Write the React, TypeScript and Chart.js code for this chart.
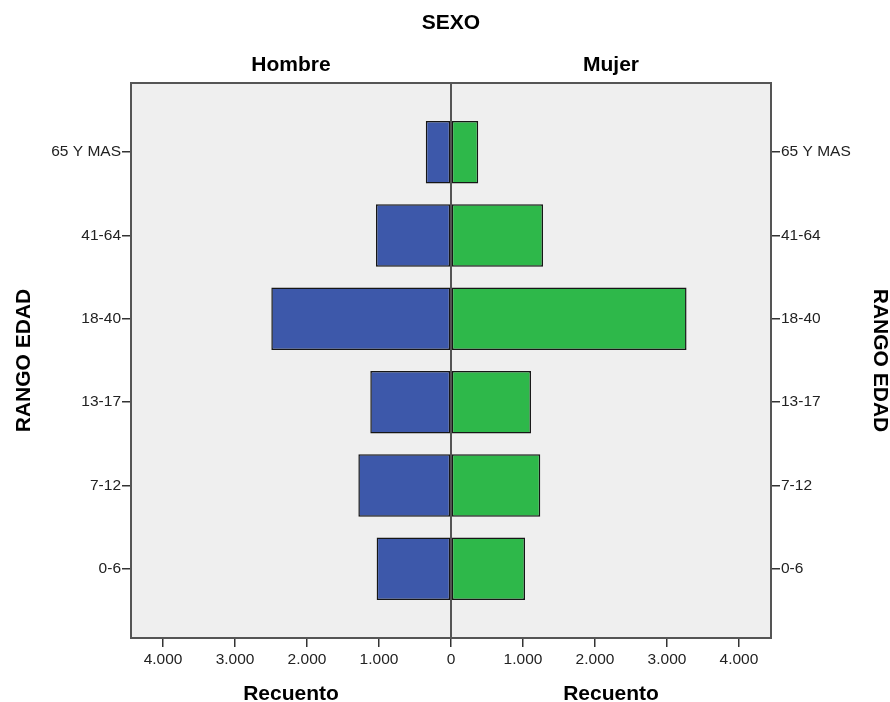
import React, { useEffect, useRef } from "react";
import { Chart, registerables } from "chart.js";

Chart.register(...registerables);

const CATEGORIES = ["0-6", "7-12", "13-17", "18-40", "41-64", "65 Y MAS"];
const HOMBRE = [1033, 1287, 1121, 2496, 1042, 350];
const MUJER = [1028, 1240, 1111, 3272, 1278, 378];
const X_TICKS = [-4000, -3000, -2000, -1000, 0, 1000, 2000, 3000, 4000];
const X_LIMIT = 4445;
const Y_MIN = -0.83;
const Y_MAX = 5.83;

const FONT = '"Liberation Sans", Arial, sans-serif';

function fmt(v: number): string {
  const a = Math.abs(Math.round(v));
  return a.toString().replace(/\B(?=(\d{3})+(?!\d))/g, ".");
}

const framePlugin = {
  id: "frame",
  beforeDraw(chart: any) {
    const { ctx, chartArea: a } = chart;
    ctx.save();
    ctx.fillStyle = "#ffffff";
    ctx.fillRect(0, 0, chart.width, chart.height);
    ctx.fillStyle = "#efefef";
    ctx.fillRect(a.left, a.top, a.right - a.left, a.bottom - a.top);
    ctx.restore();
  },
  afterDatasetsDraw(chart: any) {
    const { ctx, chartArea: a } = chart;
    const x0 = chart.scales.x.getPixelForValue(0);
    ctx.save();
    ctx.strokeStyle = "#222";
    ctx.lineWidth = 1.5;
    ctx.beginPath();
    ctx.moveTo(x0, a.top);
    ctx.lineTo(x0, a.bottom);
    ctx.stroke();
    ctx.strokeStyle = "#555";
    ctx.lineWidth = 2;
    ctx.strokeRect(a.left, a.top, a.right - a.left, a.bottom - a.top);
    ctx.restore();
  },
  afterDraw(chart: any) {
    const { ctx, chartArea: a } = chart;
    const x0 = chart.scales.x.getPixelForValue(0);
    const lm = (a.left + x0) / 2;
    const rm = (x0 + a.right) / 2;
    ctx.save();
    ctx.fillStyle = "#000";
    ctx.font = `bold 21px ${FONT}`;
    ctx.textAlign = "center";
    ctx.textBaseline = "alphabetic";
    ctx.fillText("SEXO", x0, 29);
    ctx.fillText("Hombre", lm, 71);
    ctx.fillText("Mujer", rm, 71);
    ctx.fillText("Recuento", lm, 700);
    ctx.fillText("Recuento", rm, 700);
    const cy = (a.top + a.bottom) / 2;
    ctx.textBaseline = "middle";
    ctx.save();
    ctx.translate(24, cy);
    ctx.rotate(-Math.PI / 2);
    ctx.fillText("RANGO EDAD", 0, 0);
    ctx.restore();
    ctx.save();
    ctx.translate(880, cy);
    ctx.rotate(Math.PI / 2);
    ctx.fillText("RANGO EDAD", 0, 0);
    ctx.restore();
    ctx.restore();
  },
};

export default function App() {
  const ref = useRef<HTMLCanvasElement | null>(null);

  useEffect(() => {
    document.body.style.margin = "0";
    const canvas = ref.current;
    if (!canvas) return;
    const yTicks = (scale: any) => {
      scale.ticks = CATEGORIES.map((_, i) => ({ value: i }));
    };
    const yLabel = (v: any) => {
      const i = Math.round(Number(v));
      return CATEGORIES[i] ?? "";
    };
    const yAxis = (position: string, width: number) => ({
      type: "linear",
      position,
      min: Y_MIN,
      max: Y_MAX,
      offset: false,
      afterBuildTicks: yTicks,
      afterFit: (scale: any) => {
        scale.width = width;
      },
      border: { display: false },
      grid: { offset: false, drawOnChartArea: false, drawTicks: true, tickLength: 9, color: "#333", lineWidth: 1.5 },
      ticks: {
        padding: 1,
        color: "#222",
        font: { family: FONT, size: 15.5 },
        callback: yLabel,
        autoSkip: false,
      },
    });
    const chart = new Chart(canvas, {
      type: "bar",
      data: {
        datasets: [
          {
            label: "Hombre",
            data: HOMBRE.map((v, i) => ({ x: -v, y: i })),
            backgroundColor: "#3d58aa",
            borderColor: "#161616",
            borderWidth: 1.5,
            borderSkipped: false,
            grouped: false,
            barPercentage: 0.75,
            categoryPercentage: 1,
          } as any,
          {
            label: "Mujer",
            data: MUJER.map((v, i) => ({ x: v, y: i })),
            backgroundColor: "#2eb84a",
            borderColor: "#161616",
            borderWidth: 1.5,
            borderSkipped: false,
            grouped: false,
            barPercentage: 0.75,
            categoryPercentage: 1,
          } as any,
        ],
      },
      options: {
        indexAxis: "y",
        animation: false,
        responsive: false,
        maintainAspectRatio: false,
        events: [],
        layout: { padding: { top: 83, left: 0, right: 0, bottom: 0 } },
        plugins: { legend: { display: false }, tooltip: { enabled: false } },
        scales: {
          x: {
            type: "linear",
            position: "bottom",
            min: -X_LIMIT,
            max: X_LIMIT,
            afterBuildTicks: (scale: any) => {
              scale.ticks = X_TICKS.map((v) => ({ value: v }));
            },
            afterFit: (scale: any) => {
              scale.height = 64;
            },
            border: { display: false },
            grid: { drawOnChartArea: false, drawTicks: true, tickLength: 9, color: "#333", lineWidth: 1.5 },
            ticks: {
              padding: 3,
              color: "#222",
              font: { family: FONT, size: 15.5 },
              callback: (v: any) => fmt(Number(v)),
              maxRotation: 0,
              autoSkip: false,
            },
          },
          y: yAxis("left", 131),
          y2: yAxis("right", 119),
        },
      } as any,
      plugins: [framePlugin],
    });
    return () => chart.destroy();
  }, []);

  return (
    <div style={{ position: "absolute", left: 0, top: 0, width: 890, height: 702 }}>
      <canvas ref={ref} width={890} height={702} style={{ display: "block" }} />
    </div>
  );
}
